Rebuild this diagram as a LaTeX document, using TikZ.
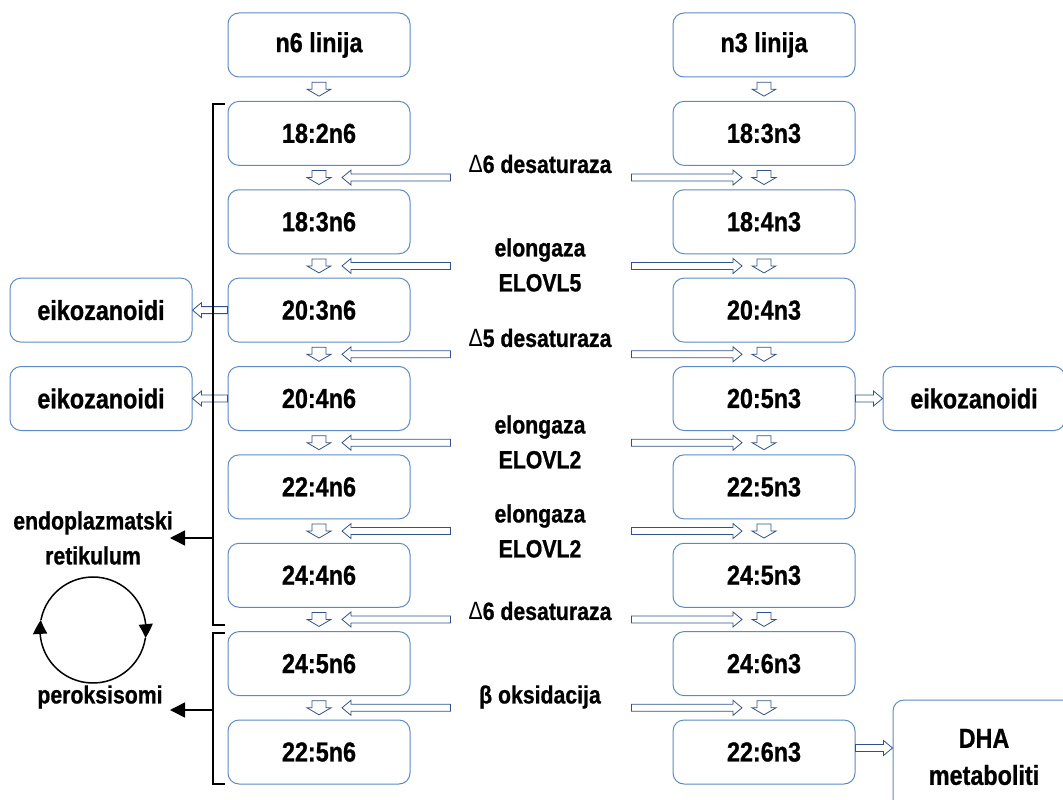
\documentclass[tikz,border=0pt]{standalone}
\usepackage{fontspec}
\setmainfont{Liberation Sans}[FakeStretch=0.85, BoldFeatures={FakeBold=0.8}]
\usetikzlibrary{arrows.meta,bending,calc,positioning}
\definecolor{boxblue}{RGB}{91,139,199}
\definecolor{arrowblue}{RGB}{47,82,143}
\newcommand\boxfont{\fontsize{27.5}{33}\selectfont\bfseries}
\newcommand\labfont{\fontsize{25}{35}\selectfont\bfseries}
\tikzset{
  stage/.style={draw=boxblue, line width=1pt, rounded corners=11pt,
    minimum width=182pt, minimum height=64pt, font=\boxfont},
  enzyme/.style={font=\labfont, align=center},
  hollow/.style n args={3}{draw=arrowblue, fill=white, line width=0.8pt,
    to path={($(\tikztostart)!#1!90:(\tikztotarget)$)
      -- ($($(\tikztotarget)!#3!(\tikztostart)$)!#1!90:(\tikztotarget)$)
      -- ($($(\tikztotarget)!#3!(\tikztostart)$)!#2!90:(\tikztotarget)$)
      -- (\tikztotarget)
      -- ($($(\tikztotarget)!#3!(\tikztostart)$)!#2!-90:(\tikztotarget)$)
      -- ($($(\tikztotarget)!#3!(\tikztostart)$)!#1!-90:(\tikztotarget)$)
      -- ($(\tikztostart)!#1!-90:(\tikztotarget)$) -- cycle}},
  fatarrow/.style={hollow={3.5pt}{7.5pt}{9pt}},
  downarrow/.style={hollow={7pt}{12pt}{7pt}},
  organelle/.style={line width=1.5pt, -{Triangle[length=15pt,width=15pt]}},
  cyc/.style={line width=1.5pt, -{Triangle[length=14pt,width=14pt,bend]}},
}
\begin{document}
\begin{tikzpicture}[x=1pt,y=1pt]
  \useasboundingbox (0,0) rectangle (1063,-800);
  % the two lines of fatty acids
  \foreach \i/\lt/\rt in {0/n6 linija/n3 linija, 1/18:2n6/18:3n3, 2/18:3n6/18:4n3,
      3/20:3n6/20:4n3, 4/20:4n6/20:5n3, 5/22:4n6/22:5n3, 6/24:4n6/24:5n3,
      7/24:5n6/24:6n3, 8/22:5n6/22:6n3} {
    \node[stage] (l\i) at (319,{-45-88.375*\i}) {\lt};
    \node[stage] (r\i) at (764,{-45-88.375*\i}) {\rt};
  }
  % products
  \node[stage, left=35pt of l3] (eik1) {eikozanoidi};
  \node[stage, left=35pt of l4] (eik2) {eikozanoidi};
  \node[stage, right=27pt of r4] (eik3) {eikozanoidi};
  \node[stage, right=37pt of r8, yshift=-5pt, minimum height=114pt, align=center] (dha) {DHA\\[4pt]metaboliti};
  % small arrows between steps
  \foreach \i [evaluate=\i as \j using int(\i+1)] in {0,...,7} {
    \draw[downarrow] ([yshift=-4.7pt]l\i.south) to ([yshift=4.7pt]l\j.north);
    \draw[downarrow] ([yshift=-4.7pt]r\i.south) to ([yshift=4.7pt]r\j.north);
  }
  % enzyme arrows
  \foreach \i [evaluate=\i as \j using int(\i+1)] in {1,...,7} {
    \coordinate (lt\i) at ($(l\i.south east)!.5!(l\j.north east)+(40pt,0)$);
    \coordinate (lh\i) at ($(l\i.south)!.5!(l\j.north)+(23pt,0)$);
    \coordinate (rt\i) at ($(r\i.south west)!.5!(r\j.north west)+(-41pt,0)$);
    \coordinate (rh\i) at ($(r\i.south)!.5!(r\j.north)+(-22pt,0)$);
    \draw[fatarrow] (lt\i) to (lh\i);
    \draw[fatarrow] (rt\i) to (rh\i);
  }
  \draw[fatarrow] (l3.west) to (eik1.east);
  \draw[fatarrow] (l4.west) to (eik2.east);
  \draw[fatarrow] (r4.east) to (eik3.west);
  \draw[fatarrow] ([yshift=4pt]r8.east) to ([yshift=4pt]r8.east -| dha.west);
  % enzymes
  \node[enzyme] (d6a) at (540,-164) {{\mdseries Δ}6 desaturaza};
  \node[enzyme] (el5) at (540,-265) {elongaza\\ELOVL5};
  \node[enzyme] (d5) at (540,-338) {{\mdseries Δ}5 desaturaza};
  \node[enzyme] (el2a) at (540,-442) {elongaza\\ELOVL2};
  \node[enzyme] (el2b) at (540,-531) {elongaza\\ELOVL2};
  \node[enzyme] (d6b) at (540,-611) {{\mdseries Δ}6 desaturaza};
  \node[enzyme] (box) at (540,-697) {β oksidacija};
  % brackets
  \draw[line width=1.5pt] (225,-104) -- (213,-104) -- (213,-625) -- (225,-625);
  \draw[line width=1.5pt] (225,-633) -- (213,-633) -- (213,-784) -- (225,-784);
  % organelles
  \node[enzyme] (er) at (93,-538) {endoplazmatski\\retikulum};
  \node[enzyme] (perox) at (100,-697) {peroksisomi};
  \coordinate (erb) at (213,-538);
  \coordinate (ere) at (170,-538);
  \coordinate (pxb) at (213,-710);
  \coordinate (pxe) at (170,-710);
  \draw[organelle] (erb) -- (ere);
  \draw[organelle] (pxb) -- (pxe);
  % cycle between them
  \coordinate (cyc) at (93,-630);
  \draw[cyc] (cyc) ++(169.1:53) arc[start angle=169.1, end angle=-8.7, radius=53];
  \draw[cyc] (cyc) ++(-8.7:53) arc[start angle=-8.7, end angle=-190.9, radius=53];
\end{tikzpicture}
\end{document}
